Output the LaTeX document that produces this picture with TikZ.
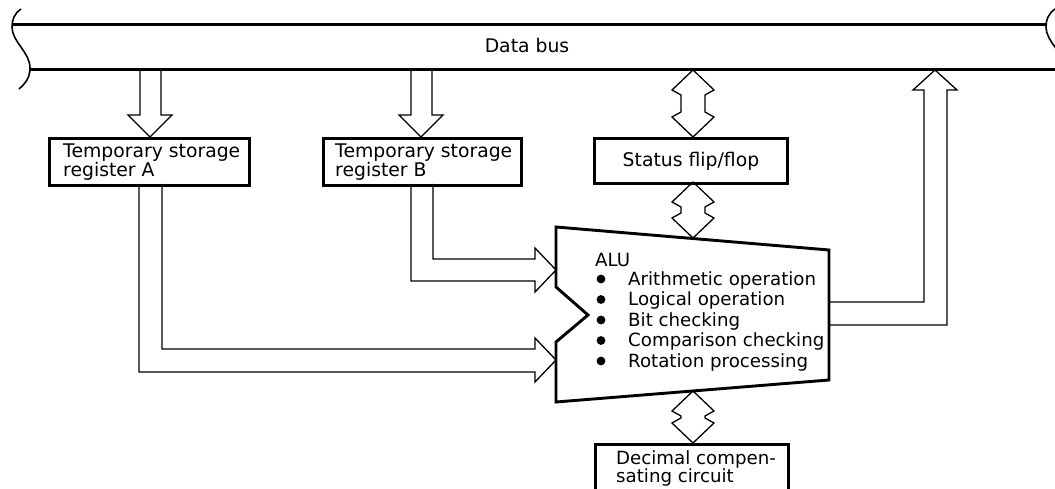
\documentclass[tikz,border=0pt]{standalone}
\usepackage{fontspec}
\setmainfont{DejaVu Sans}
\usetikzlibrary{calc}
\begin{document}
\begin{tikzpicture}[x=1pt,y=-1pt,
  box/.style={draw, line width=2.9pt, inner sep=0pt},
  lbl/.style={font=\fontsize{18.8}{16}\selectfont, align=left, inner sep=0pt},
  alulbl/.style={font=\fontsize{18.2}{16}\selectfont, inner sep=0pt},
  barrow/.style={draw, line width=1.3pt, line join=miter},
  busline/.style={line width=3pt},
  busend/.style={line width=1.6pt}]
\useasboundingbox (0,0) rectangle (1055,489);
\clip (0,0) rectangle (1055,489);

% data bus
\draw[busline] (12,25) -- (1046,25);
\draw[busline] (30,70) -- (1056,70);
\draw[busend] (21,9) .. controls (14,14) and (12,20) .. (12,27) .. controls (12,42) and (30,52) .. (30,68) .. controls (30,78) and (25,84) .. (19,89);
\draw[busend] (1055,9) .. controls (1048,14) and (1046,20) .. (1046,27) .. controls (1046,42) and (1064,52) .. (1064,68);
\node[lbl, anchor=base] (bus) at (527,53) {Data bus};

% registers
\node[box, anchor=north west, minimum width=200pt, minimum height=47pt] (regA) at (48,137) {};
\node[lbl, anchor=west] (regAt) at ($(regA.west)+(15,0)$) {Temporary storage\\register A};
\node[box, anchor=north west, minimum width=198pt, minimum height=47pt] (regB) at (322,137) {};
\node[lbl, anchor=west] (regBt) at ($(regB.west)+(13,0)$) {Temporary storage\\register B};

% status
\node[box, lbl, anchor=north west, minimum width=193pt, minimum height=45pt, inner sep=0pt, line width=2.9pt] (stat) at (593,137) {Status flip/flop};

% decimal
\node[box, anchor=north west, minimum width=193pt, minimum height=52pt] (dec) at (594,443) {};
\node[alulbl, anchor=north west, align=left, font=\fontsize{18.2}{18}\selectfont] (dect) at (616,450) {Decimal compen-\\sating circuit};

% ALU
\draw[line width=2.9pt, line join=miter] (556,227) -- (829,250) -- (829,380) -- (556,402) -- (556,342) -- (588,315) -- (556,287) -- cycle;
\node[alulbl, anchor=base west] (alu) at (595,266) {ALU};
\foreach \t [count=\i] in {Arithmetic operation, Logical operation, Bit checking, Comparison checking, Rotation processing}{
  \fill (601,{285+20.5*(\i-1)-6}) circle (4.4pt);
  \node[alulbl, anchor=base west] (op\i) at (628,{285+20.5*(\i-1)}) {\t};
}

% bus -> register A
\draw[barrow] (140,70) -- (140,115) -- (128,115) -- (150,137) -- (172,115) -- (161,115) -- (161,70);
% bus -> register B
\draw[barrow] (411,70) -- (411,115) -- (399,115) -- (421,137) -- (443,115) -- (432,115) -- (432,70);

% register B -> ALU
\draw[barrow] (411,184) -- (411,281) -- (535,281) -- (535,292) -- (556,270) -- (535,248) -- (535,259) -- (433,259) -- (433,184);
% register A -> ALU
\draw[barrow] (139,184) -- (139,372) -- (535,372) -- (535,382) -- (556,360) -- (535,338) -- (535,349) -- (162,349) -- (162,184);

% ALU -> bus
\draw[barrow] (829,302) -- (924,302) -- (924,90) -- (913,90) -- (935,70) -- (957,90) -- (947,90) -- (947,325) -- (829,325);

% double arrows
\newcommand\dblarrow[3]{% center x, top y, bottom y
  \draw[barrow] (#1,#2) -- (#1+21,#2+20) -- (#1+12,#2+25) -- (#1+12,#3-25) -- (#1+21,#3-20) -- (#1,#3) -- (#1-21,#3-20) -- (#1-12,#3-25) -- (#1-12,#2+25) -- (#1-21,#2+20) -- cycle;}
\dblarrow{693}{70}{137}
\dblarrow{693}{182}{238}
\dblarrow{693}{391}{443}
\end{tikzpicture}
\end{document}
